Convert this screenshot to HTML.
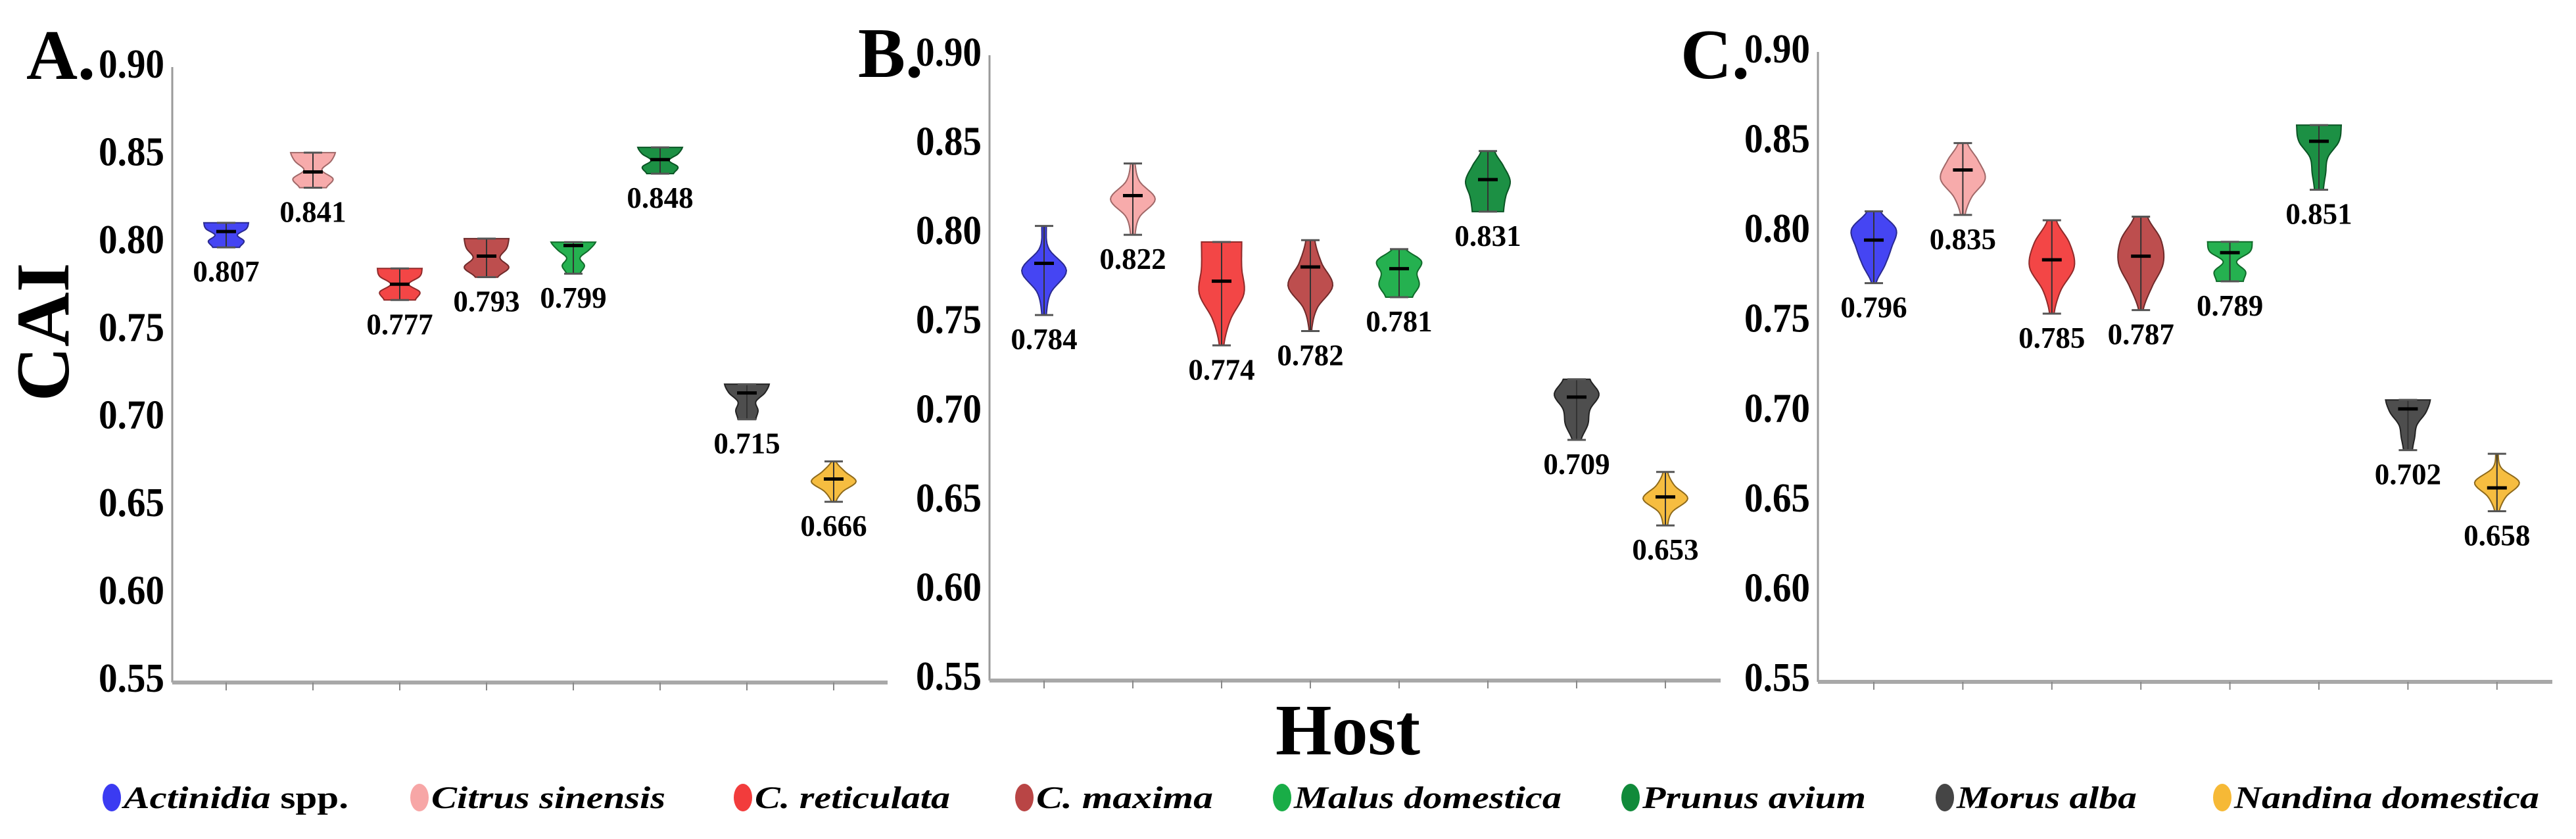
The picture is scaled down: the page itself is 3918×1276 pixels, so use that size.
<!DOCTYPE html>
<html><head><meta charset="utf-8"><style>
html,body{margin:0;padding:0;background:#fff;}
svg{display:block;}
</style></head>
<body>
<svg id="chart" width="3918" height="1276" viewBox="0 0 3918 1276" xmlns="http://www.w3.org/2000/svg"></svg>
<script>
const hosts = ["Actinidia spp.","Citrus sinensis","C. reticulata","C. maxima","Malus domestica","Prunus avium","Morus alba","Nandina domestica"];
const colors = ["#3b3bf2","#f7a6a6","#f23c3c","#b94545","#19ad47","#108a3a","#454545","#f6b936"];
const strokes = ["#2a2a90","#a06868","#902a2a","#6e2a2a","#106a2a","#0a5424","#222","#8e6a1c"];
const yTicks = [0.90,0.85,0.80,0.75,0.70,0.65,0.60,0.55];
const yTickLabels = ["0.90","0.85","0.80","0.75","0.70","0.65","0.60","0.55"];
// panel A
const medA = [0.807,0.841,0.777,0.793,0.799,0.848,0.715,0.666];
const minA = [0.798,0.832,0.768,0.781,0.783,0.840,0.700,0.653];
const maxA = [0.812,0.852,0.786,0.803,0.801,0.855,0.720,0.676];
const shapeA = [[1,.9,.5,.8,.6],[1,.8,.4,.9,.6],[1,.9,.4,.9,.7],[1,.9,.6,1,.5],[1,.7,.3,.5,.3],[1,.8,.4,.8,.6],[1,.8,.4,.5,.4],[.1,.5,1,.4,.1]];
// panel B
const medB = [0.784,0.822,0.774,0.782,0.781,0.831,0.709,0.653];
const minB = [0.755,0.800,0.738,0.746,0.765,0.813,0.685,0.637];
const maxB = [0.805,0.840,0.796,0.797,0.792,0.847,0.719,0.667];
const shapeB = [[.1,.2,1,.3,.1],[.1,.3,1,.3,.1],[.9,.9,1,.4,.1],[.2,.5,1,.3,.05],[.3,1,.8,.9,.6],[.3,.7,1,.8,.7],[.6,1,.6,.5,.2],[.1,.4,1,.3,.1]];
// panel C
const medC = [0.796,0.835,0.785,0.787,0.789,0.851,0.702,0.658];
const minC = [0.772,0.810,0.755,0.757,0.773,0.824,0.679,0.645];
const maxC = [0.812,0.850,0.807,0.809,0.795,0.860,0.707,0.677];
const shapeC = [[.3,1,.8,.5,.1],[.2,.7,1,.4,.1],[.2,.8,1,.4,.1],[.3,.9,1,.5,.1],[1,.9,.3,.7,.6],[1,.9,.4,.3,.2],[1,.8,.4,.3,.2],[.05,.2,1,.4,.1]];

const NS = "http://www.w3.org/2000/svg";
const svg = document.getElementById("chart");
function mk(tag, attrs, parent){
  const e = document.createElementNS(NS, tag);
  for (const k in attrs) e.setAttribute(k, attrs[k]);
  (parent||svg).appendChild(e);
  return e;
}
const SERIF = '"Liberation Serif", "Times New Roman", serif';

const panels = [
  {id:"a", letter:"A.", lx:40, ly:120, x0:262, x1:1350, top:104, bot:1038, first:344, step:132, med:medA, min:minA, max:maxA, shape:shapeA},
  {id:"b", letter:"B.", lx:1305, ly:117, x0:1505, x1:2617, top:86, bot:1035, first:1588, step:135, med:medB, min:minB, max:maxB, shape:shapeB},
  {id:"c", letter:"C.", lx:2556, ly:119, x0:2765, x1:3882, top:81, bot:1037, first:2850, step:135.4, med:medC, min:minC, max:maxC, shape:shapeC}
];

function catmull(p, t){
  const n=p.length; const i=Math.min(Math.floor(t), n-2); const f=t-i;
  const p0=p[Math.max(i-1,0)], p1=p[i], p2=p[i+1], p3=p[Math.min(i+2,n-1)];
  return 0.5*((2*p1)+(-p0+p2)*f+(2*p0-5*p1+4*p2-p3)*f*f+(-p0+3*p1-3*p2+p3)*f*f*f);
}

panels.forEach(P=>{
  const g = mk("g",{});
  
  
  const y = v => P.top + (0.90 - v)/0.35*(P.bot-P.top);
  const x = i => P.first + i*P.step;

  const letter = mk("text",{x:P.lx, y:P.ly, "font-family":SERIF, "font-weight":"bold", "font-size":108}, g);
  letter.textContent = P.letter;
  
  

  const ya = mk("line",{x1:P.x0, y1:P.top-2, x2:P.x0, y2:P.bot, stroke:"#9a9a9a", "stroke-width":3}, g);
  
  
  const xa = mk("line",{x1:P.x0, y1:P.bot, x2:P.x1, y2:P.bot, stroke:"#a8a8a8", "stroke-width":6}, g);
  
  

  yTicks.forEach((v,k)=>{
    const t = mk("text",{x:P.x0-12, y:y(v)+14, "text-anchor":"end", "font-family":SERIF, "font-weight":"bold", "font-size":62, textLength:100, lengthAdjust:"spacingAndGlyphs"}, g);
    t.textContent = yTickLabels[k];
    
    
  });

  hosts.forEach((h,i)=>{
    const cx = x(i);
    const tk = mk("line",{x1:cx, y1:P.bot, x2:cx, y2:P.bot+12, stroke:"#888", "stroke-width":2}, g);
    
    

    const vg = mk("g",{}, g);
    
    
    const yt = y(P.max[i]), yb = y(P.min[i]);
    const sh = P.shape[i]; const W = 34; const N = 30;
    let right=[], left=[];
    for (let s=0; s<=N; s++){
      const t = s/N*(sh.length-1);
      const w = Math.max(2, catmull(sh, t)*W);
      const yy = yt + (yb-yt)*s/N;
      right.push([cx+w, yy]); left.push([cx-w, yy]);
    }
    const pts = right.concat(left.reverse()).map(p=>p[0].toFixed(1)+","+p[1].toFixed(1)).join(" ");
    const body = mk("polygon",{points:pts, fill:colors[i], "fill-opacity":0.95, stroke:strokes[i], "stroke-width":2}, vg);
    
    
    mk("line",{x1:cx, y1:yt, x2:cx, y2:yb, stroke:"#333", "stroke-width":2}, vg);
    mk("line",{x1:cx-14, y1:yt, x2:cx+14, y2:yt, stroke:"#555", "stroke-width":3}, vg);
    mk("line",{x1:cx-14, y1:yb, x2:cx+14, y2:yb, stroke:"#555", "stroke-width":3}, vg);
    const md = mk("line",{x1:cx-15, y1:y(P.med[i]), x2:cx+15, y2:y(P.med[i]), stroke:"#000", "stroke-width":5}, vg);
    
    
    const lab = mk("text",{x:cx, y:yb+52, "text-anchor":"middle", "font-family":SERIF, "font-weight":"bold", "font-size":45}, vg);
    lab.textContent = P.med[i].toFixed(3);
    
    
  });
});

const cai = mk("text",{x:0, y:0, transform:"translate(104,505) rotate(-90)", "text-anchor":"middle", "font-family":SERIF, "font-weight":"bold", "font-size":115});
cai.textContent = "CAI";



const host = mk("text",{x:2050, y:1147, "text-anchor":"middle", "font-family":SERIF, "font-weight":"bold", "font-size":110});
host.textContent = "Host";



const legX = [170,638,1130,1558,1950,2480,2958,3380];
const legEnd = [530,1012,1445,1845,2375,2838,3250,3862];
hosts.forEach((h,i)=>{
  const lg = mk("g",{});
  
  
  mk("ellipse",{cx:legX[i], cy:1213, rx:14, ry:21, fill:colors[i]}, lg);
  const t = mk("text",{x:legX[i]+18, y:1229, "font-family":SERIF, "font-weight":"bold", "font-size":48, textLength:legEnd[i]-legX[i]-18, lengthAdjust:"spacingAndGlyphs"}, lg);
  if (h.endsWith(" spp.")) {
    const a = mk("tspan",{"font-style":"italic"}, t); a.textContent = h.replace(" spp.","");
    const b = mk("tspan",{}, t); b.textContent = " spp.";
  } else { t.setAttribute("font-style","italic"); t.textContent = h; }
});
</script>
</body></html>
